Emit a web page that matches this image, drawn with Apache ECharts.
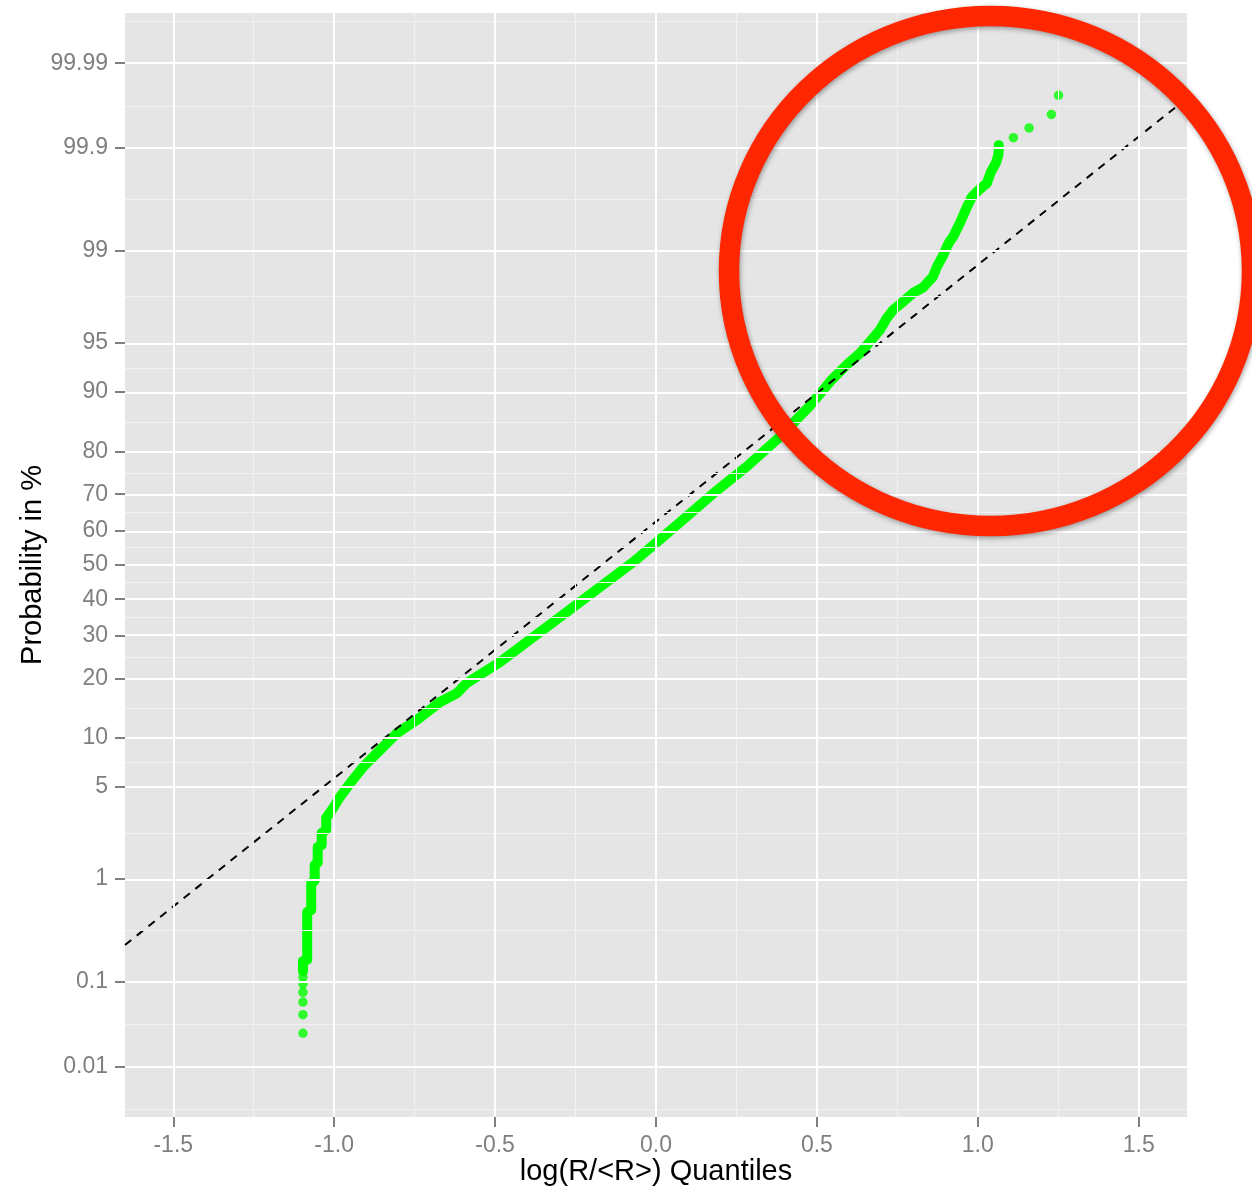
<!DOCTYPE html>
<html>
<head>
<meta charset="utf-8">
<script src="https://cdn.jsdelivr.net/npm/echarts@6/dist/echarts.min.js"></script>
<style>
  html, body { margin: 0; padding: 0; background: #ffffff; }
  #chart { width: 1252px; height: 1190px; }
</style>
</head>
<body>
<div id="chart"></div>
<script>
// ---- data ----
const yTickLabels = [0.01, 0.1, 1, 5, 10, 20, 30, 40, 50, 60, 70, 80, 90, 95, 99, 99.9, 99.99];
const xTickLabels = [-1.5, -1.0, -0.5, 0.0, 0.5, 1.0, 1.5];

// isolated points in the lower tail (x, probability %)
const lowTailX = [-1.097, -1.097, -1.097, -1.097, -1.097, -1.097, -1.097, -1.097, -1.097];
const lowTailP = [0.026, 0.043, 0.060, 0.077, 0.095, 0.113, 0.131, 0.148, 0.166];

// dense body of the quantile curve (x, probability %)
const bodyX = [-1.097, -1.097, -1.0839, -1.0839, -1.0714, -1.0714, -1.0606, -1.0606, -1.0512, -1.0512,
  -1.0388, -1.0388, -1.0248, -1.0248, -1.0071, -0.9814, -0.9503, -0.909, -0.8571, -0.8053,
  -0.7432, -0.6708, -0.6189, -0.5879, -0.4845, -0.381, -0.2773, -0.1739, -0.0705, 0.0,
  0.0901, 0.178, 0.2817, 0.3851, 0.4783, 0.545, 0.5922, 0.6335, 0.6646, 0.6957,
  0.7165, 0.737, 0.768, 0.7991, 0.8301, 0.8457, 0.8602, 0.8727, 0.8913, 0.9037,
  0.913, 0.9233, 0.9472, 0.9658, 0.9814, 1.0031, 1.028, 1.0404, 1.0559, 1.0637,
  1.0652, 1.0652];
const bodyP = [0.131, 0.166, 0.172, 0.507, 0.529, 0.924, 0.962, 1.313, 1.363, 1.835,
  1.90, 2.355, 2.48, 3.05, 3.48, 4.30, 5.29, 6.76, 8.53, 10.62,
  12.54, 15.5, 17.1, 19.1, 23.6, 29.7, 36.4, 43.5, 50.9, 56.5,
  63.6, 70.2, 76.7, 82.9, 88.1, 91.47, 93.08, 94.16, 95.10, 95.92,
  96.62, 97.06, 97.45, 97.81, 98.02, 98.21, 98.36, 98.64, 98.90, 99.08,
  99.18, 99.25, 99.46, 99.60, 99.68, 99.727, 99.767, 99.820, 99.855, 99.881,
  99.900, 99.907];

// isolated points in the upper tail
const highTailX = [1.1106, 1.1593, 1.2286, 1.2509];
const highTailP = [99.923, 99.940, 99.958, 99.975];

// dashed reference line end points
const refX = [-1.65, 1.65];
const refP = [0.243, 99.973];

// ---- probit transform (inverse normal CDF) ----
function probit(p) {
  const a = [-3.969683028665376e+01, 2.209460984245205e+02, -2.759285104469687e+02, 1.383577518672690e+02, -3.066479806614716e+01, 2.506628277459239e+00];
  const b = [-5.447609879822406e+01, 1.615858368580409e+02, -1.556989798598866e+02, 6.680131188771972e+01, -1.328068155288572e+01];
  const c = [-7.784894002430293e-03, -3.223964580411365e-01, -2.400758277161838e+00, -2.549732539343734e+00, 4.374664141464968e+00, 2.938163982698783e+00];
  const d = [7.784695709041462e-03, 3.224671290700398e-01, 2.445134137142996e+00, 3.754408661907416e+00];
  const pl = 0.02425, ph = 1 - pl;
  let q, r;
  if (p < pl) {
    q = Math.sqrt(-2 * Math.log(p));
    return (((((c[0]*q+c[1])*q+c[2])*q+c[3])*q+c[4])*q+c[5]) / ((((d[0]*q+d[1])*q+d[2])*q+d[3])*q+1);
  }
  if (p <= ph) {
    q = p - 0.5; r = q * q;
    return (((((a[0]*r+a[1])*r+a[2])*r+a[3])*r+a[4])*r+a[5])*q / (((((b[0]*r+b[1])*r+b[2])*r+b[3])*r+b[4])*r+1);
  }
  q = Math.sqrt(-2 * Math.log(1 - p));
  return -(((((c[0]*q+c[1])*q+c[2])*q+c[3])*q+c[4])*q+c[5]) / ((((d[0]*q+d[1])*q+d[2])*q+d[3])*q+1);
}
const zOf = pct => probit(pct / 100);

const yTicksZ = yTickLabels.map(zOf);
const zRange = yTicksZ[yTicksZ.length - 1] - yTicksZ[0];
const yMin = yTicksZ[0] - 0.05 * zRange;
const yMax = yTicksZ[yTicksZ.length - 1] + 0.05 * zRange;
const xRange = xTickLabels[xTickLabels.length - 1] - xTickLabels[0];
const xMin = xTickLabels[0] - 0.05 * xRange;
const xMax = xTickLabels[xTickLabels.length - 1] + 0.05 * xRange;

// minor grid lines (midpoints, ggplot style)
const yMinorZ = [];
yMinorZ.push(yTicksZ[0] - (yTicksZ[1] - yTicksZ[0]) / 2);
for (let i = 0; i < yTicksZ.length - 1; i++) yMinorZ.push((yTicksZ[i] + yTicksZ[i + 1]) / 2);
const nY = yTicksZ.length;
yMinorZ.push(yTicksZ[nY - 1] + (yTicksZ[nY - 1] - yTicksZ[nY - 2]) / 2);
const xMinor = [];
for (let i = 0; i < xTickLabels.length - 1; i++) xMinor.push((xTickLabels[i] + xTickLabels[i + 1]) / 2);

function yLabel(v) {
  let best = 0, bd = Infinity;
  yTicksZ.forEach((z, i) => { const dd = Math.abs(z - v); if (dd < bd) { bd = dd; best = i; } });
  return String(yTickLabels[best]);
}

const FONT = 'Liberation Sans, Arial, Helvetica, sans-serif';
const GREY = '#7F7F7F';

const gridLineData = [];
yMinorZ.filter(z => z > yMin && z < yMax).forEach(z => gridLineData.push({ yAxis: z, lineStyle: { color: '#F2F2F2', width: 1 } }));
xMinor.filter(x => x > xMin && x < xMax).forEach(x => gridLineData.push({ xAxis: x, lineStyle: { color: '#F2F2F2', width: 1 } }));
yTicksZ.forEach(z => gridLineData.push({ yAxis: z, lineStyle: { color: '#FFFFFF', width: 2 } }));
xTickLabels.forEach(x => gridLineData.push({ xAxis: x, lineStyle: { color: '#FFFFFF', width: 2 } }));

const chart = echarts.init(document.getElementById('chart'), null, { renderer: 'canvas' });
chart.setOption({
  animation: false,
  backgroundColor: '#FFFFFF',
  grid: { left: 125, top: 13, right: 65, bottom: 73, show: true, backgroundColor: '#E5E5E5', borderWidth: 0,
    containLabel: false, outerBoundsMode: 'none' },
  xAxis: {
    type: 'value', min: xMin, max: xMax,
    axisLine: { show: false, onZero: false },
    splitLine: { show: false },
    axisTick: { show: true, customValues: xTickLabels, length: 10, lineStyle: { color: GREY, width: 2 } },
    axisLabel: { customValues: xTickLabels, formatter: v => Number(v).toFixed(1), color: GREY, fontSize: 23, fontFamily: FONT, margin: 17 },
    name: 'log(R/<R>) Quantiles', nameLocation: 'middle', nameGap: 40, nameMoveOverlap: false,
    nameTextStyle: { color: '#000000', fontSize: 29, fontFamily: FONT }
  },
  yAxis: {
    type: 'value', min: yMin, max: yMax,
    axisLine: { show: false, onZero: false },
    splitLine: { show: false },
    axisTick: { show: true, customValues: yTicksZ, length: 10, lineStyle: { color: GREY, width: 2 } },
    axisLabel: { customValues: yTicksZ, formatter: v => yLabel(v), color: GREY, fontSize: 23, fontFamily: FONT, margin: 17 },
    name: 'Probability in %', nameLocation: 'middle', nameGap: 78, nameRotate: 90, nameMoveOverlap: false,
    nameTextStyle: { color: '#000000', fontSize: 29, fontFamily: FONT }
  },
  series: [
    {
      type: 'scatter', data: [], z: 1, silent: true,
      markLine: { silent: true, symbol: ['none', 'none'], label: { show: false }, emphasis: { disabled: true },
        lineStyle: { type: 'solid' }, data: gridLineData }
    },
    {
      type: 'line', z: 3, silent: true, showSymbol: false, symbol: 'none',
      data: bodyX.map((x, i) => [x, zOf(bodyP[i])]),
      lineStyle: { color: '#00FF00', width: 10, cap: 'round', join: 'round' }
    },
    {
      type: 'scatter', z: 3, silent: true, symbolSize: 9.5,
      itemStyle: { color: '#00FF00' },
      data: lowTailX.map((x, i) => [x, zOf(lowTailP[i])]).concat(highTailX.map((x, i) => [x, zOf(highTailP[i])]))
    },
    {
      type: 'line', z: 4, silent: true, showSymbol: false, symbol: 'none',
      data: refX.map((x, i) => [x, zOf(refP[i])]),
      lineStyle: { color: '#000000', width: 2, type: [8, 7] }
    }
  ],
  graphic: [
    {
      type: 'ellipse', z: 100, silent: true,
      shape: { cx: 990.5, cy: 271, rx: 261.5, ry: 255 },
      style: { fill: null, stroke: '#FF2600', lineWidth: 20.5,
        shadowBlur: 5, shadowColor: 'rgba(0,0,0,0.35)', shadowOffsetX: 1, shadowOffsetY: 2 }
    }
  ]
});
</script>
</body>
</html>
